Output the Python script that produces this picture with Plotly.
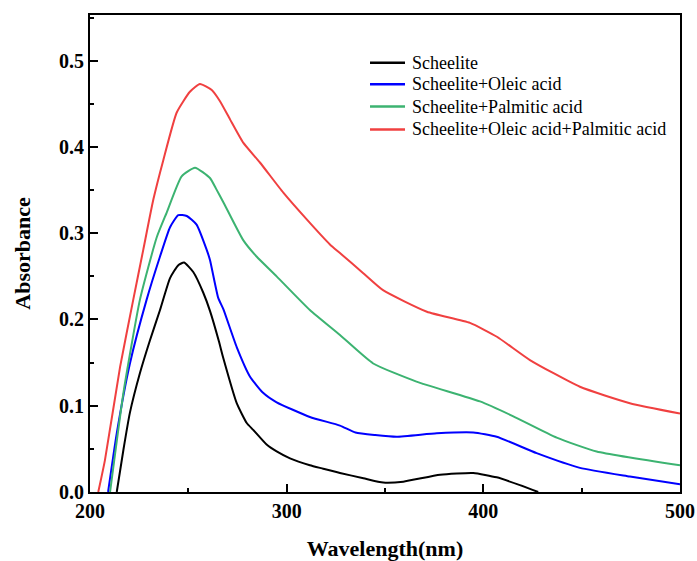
import plotly.graph_objects as go

# Scheelite
x_black = [213.6, 217.0, 220.3, 225.4, 230.5, 235.6, 240.7, 244.9, 247.8, 252.5, 257.6, 261.0, 265.5, 267.8, 274.6, 279.7, 283.0, 289.8, 294.9, 301.7, 311.8, 318.6, 327.1, 339.0, 349.1, 359.3, 378.0, 394.9, 406.8, 418.6, 427.9]
y_black = [0.0, 0.049, 0.092, 0.138, 0.176, 0.211, 0.248, 0.263, 0.266, 0.255, 0.231, 0.210, 0.175, 0.155, 0.103, 0.080, 0.072, 0.055, 0.047, 0.039, 0.031, 0.027, 0.022, 0.016, 0.011, 0.012, 0.020, 0.022, 0.017, 0.008, 0.0]

# Scheelite + Oleic acid
x_blue = [209.2, 213.6, 220.3, 228.8, 235.6, 240.7, 244.9, 249.2, 254.2, 259.3, 261.0, 265.2, 267.8, 274.6, 281.3, 288.0, 294.9, 311.8, 327.1, 335.0, 345.0, 355.9, 376.3, 394.9, 406.8, 427.1, 449.1, 474.5, 500.0]
y_blue = [0.0, 0.068, 0.149, 0.223, 0.273, 0.307, 0.321, 0.320, 0.310, 0.281, 0.269, 0.225, 0.212, 0.168, 0.134, 0.115, 0.104, 0.087, 0.077, 0.069, 0.066, 0.064, 0.068, 0.069, 0.064, 0.045, 0.028, 0.018, 0.009]

# Scheelite + Palmitic acid
x_green = [210.2, 217.0, 225.4, 233.9, 239.0, 246.6, 253.4, 261.0, 264.0, 267.8, 277.9, 284.7, 294.9, 311.8, 327.1, 344.0, 366.0, 398.3, 415.0, 437.3, 457.6, 500.0]
y_green = [0.0, 0.115, 0.223, 0.295, 0.324, 0.366, 0.376, 0.364, 0.352, 0.336, 0.292, 0.273, 0.250, 0.211, 0.182, 0.149, 0.128, 0.105, 0.088, 0.063, 0.047, 0.031]

# Scheelite + Oleic acid + Palmitic acid
x_red = [204.2, 207.6, 215.3, 222.0, 227.1, 232.2, 237.3, 244.1, 250.8, 255.9, 261.9, 266.1, 271.2, 277.9, 286.4, 298.3, 310.2, 322.0, 327.1, 338.8, 349.0, 371.3, 393.2, 406.9, 423.7, 449.1, 474.5, 500.0]
y_red = [0.0, 0.037, 0.145, 0.223, 0.281, 0.339, 0.385, 0.440, 0.464, 0.473, 0.466, 0.453, 0.432, 0.405, 0.382, 0.347, 0.316, 0.287, 0.277, 0.254, 0.234, 0.209, 0.196, 0.180, 0.153, 0.122, 0.103, 0.091]

names = ["Scheelite", "Scheelite+Oleic acid", "Scheelite+Palmitic acid",
         "Scheelite+Oleic acid+Palmitic acid"]
colors = ["#000000", "#0000FF", "#3CB371", "#F04040"]
xs_all = [x_black, x_blue, x_green, x_red]
ys_all = [y_black, y_blue, y_green, y_red]

fig = go.Figure()
for name, xs, ys, col in zip(names, xs_all, ys_all, colors):
    fig.add_trace(go.Scatter(x=xs, y=ys, mode="lines", name=name, showlegend=False,
                             line=dict(color=col, width=2, shape="spline", smoothing=0.5)))

# legend drawn as line samples + text in paper coordinates
leg_x0, leg_x1, leg_tx = 0.4746, 0.5339, 0.5424
leg_y = [0.900, 0.855, 0.808, 0.760]
for name, col, yy in zip(names, colors, leg_y):
    fig.add_shape(type="line", xref="paper", yref="paper",
                  x0=leg_x0, x1=leg_x1, y0=yy, y1=yy,
                  line=dict(color=col, width=2.5))
    fig.add_annotation(xref="paper", yref="paper", x=leg_tx, y=yy,
                       xanchor="left", yanchor="middle", showarrow=False,
                       text=name, font=dict(family="Liberation Serif", size=18, color="black"))

axis_common = dict(
    showline=True, linecolor="black", linewidth=2, mirror=True,
    ticks="inside", ticklen=8, tickwidth=2, tickcolor="black",
    showgrid=False, zeroline=False, automargin=False,
    tickfont=dict(family="Liberation Serif", size=20, color="black", weight="bold"),
)

fig.update_xaxes(range=[200, 500], dtick=100, tick0=200,
                 minor=dict(ticks="inside", ticklen=4, tickwidth=2, dtick=50, tickcolor="black"),
                 title=dict(text="Wavelength(nm)", standoff=20,
                            font=dict(family="Liberation Serif", size=22, color="black", weight="bold")),
                 **axis_common)
fig.update_yaxes(range=[0, 0.553], dtick=0.1, tick0=0, tickformat=".1f",
                 minor=dict(ticks="inside", ticklen=4, tickwidth=2, dtick=0.05, tickcolor="black"),
                 title=dict(text="Absorbance", standoff=22,
                            font=dict(family="Liberation Serif", size=22, color="black", weight="bold")),
                 **axis_common)

fig.update_layout(
    width=697, height=561,
    margin=dict(l=90, r=17, t=15, b=69),
    plot_bgcolor="white", paper_bgcolor="white",
    showlegend=False,
)

fig.write_html("out.html")
